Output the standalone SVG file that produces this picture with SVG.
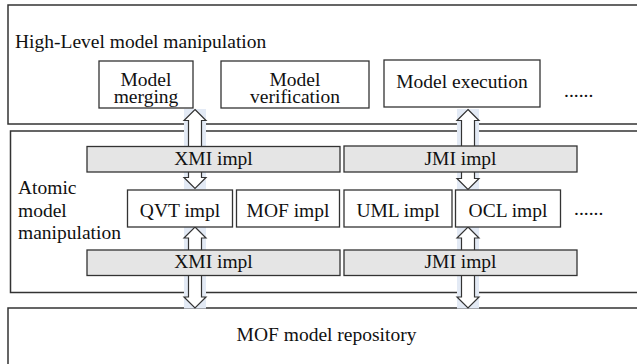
<svg xmlns="http://www.w3.org/2000/svg" width="637" height="364" viewBox="0 0 637 364">
<style>
text{font-family:"Liberation Serif",Tinos,"Times New Roman","DejaVu Serif",serif;font-size:19.5px;fill:#111}
.c{text-anchor:middle}
.outer{fill:#fff;stroke:#333;stroke-width:1.5}
.box{fill:#fff;stroke:#333;stroke-width:1.3}
.bar{fill:#e5e5e5;stroke:#333;stroke-width:1.3}
.band{fill:#e3eaf5;stroke:none}
.arr{fill:#fff;stroke:#333;stroke-width:1.2;stroke-linejoin:miter}
</style>
<rect width="637" height="364" fill="#fff"/>
<g font-family="Liberation Serif, Tinos, Times New Roman, DejaVu Serif, serif">
<g id="high-level">
<rect class="outer" x="8" y="5" width="640" height="119"/>
<text x="15" y="48">High-Level model manipulation</text>
</g>
<g id="atomic">
<rect class="outer" x="10.5" y="131" width="640" height="161.5"/>
<text x="18" y="194">Atomic</text>
<text x="18" y="216.5">model</text>
<text x="18" y="238.5">manipulation</text>
</g>
<g id="repository">
<rect class="outer" x="8" y="308" width="640" height="70"/>
<text class="c" x="326.5" y="341">MOF model repository</text>
</g>
<g id="connectors">
<rect class="band" x="184" y="109" width="22" height="80"/>
<polygon class="arr" points="195,109.5 206,120.5 201.5,120.5 201.5,177.5 206,177.5 195,188.5 184,177.5 188.5,177.5 188.5,120.5 184,120.5"/>
<rect class="band" x="457" y="109" width="22" height="81"/>
<polygon class="arr" points="468,109.5 479,120.5 474.5,120.5 474.5,178.5 479,178.5 468,189.5 457,178.5 461.5,178.5 461.5,120.5 457,120.5"/>
<rect class="band" x="184" y="226.5" width="22" height="82"/>
<polygon class="arr" points="195,227 206,238 201.5,238 201.5,297 206,297 195,308 184,297 188.5,297 188.5,238 184,238"/>
<rect class="band" x="457" y="226.5" width="22" height="82"/>
<polygon class="arr" points="468,227 479,238 474.5,238 474.5,297 479,297 468,308 457,297 461.5,297 461.5,238 457,238"/>
</g>
<g id="model-merging">
<rect class="box" x="99" y="61" width="94" height="47"/>
<text class="c" x="146" y="85.5">Model</text>
<text class="c" x="146" y="102.5">merging</text>
</g>
<g id="model-verification">
<rect class="box" x="221" y="61" width="148" height="47"/>
<text class="c" x="295" y="85.5">Model</text>
<text class="c" x="295" y="102.5">verification</text>
</g>
<g id="model-execution">
<rect class="box" x="384" y="60" width="156" height="47"/>
<text class="c" x="462" y="88">Model execution</text>
</g>
<g id="more-high">
<text x="564" y="97">......</text>
</g>
<g id="xmi-top">
<rect class="bar" x="87" y="146.5" width="253" height="25.5"/>
<text class="c" x="213.5" y="165">XMI impl</text>
</g>
<g id="jmi-top">
<rect class="bar" x="344" y="146" width="233" height="26"/>
<text class="c" x="460.5" y="165">JMI impl</text>
</g>
<g id="qvt">
<rect class="box" x="127.5" y="190" width="105" height="37"/>
<text class="c" x="180" y="216.5">QVT impl</text>
</g>
<g id="mof">
<rect class="box" x="236.5" y="190" width="103" height="37"/>
<text class="c" x="288" y="216.5">MOF impl</text>
</g>
<g id="uml">
<rect class="box" x="344" y="190" width="108" height="37"/>
<text class="c" x="398" y="216.5">UML impl</text>
</g>
<g id="ocl">
<rect class="box" x="455.5" y="190" width="105" height="37"/>
<text class="c" x="508" y="216.5">OCL impl</text>
</g>
<g id="more-atomic">
<text x="574" y="215">......</text>
</g>
<g id="xmi-bottom">
<rect class="bar" x="87" y="250" width="253" height="25.5"/>
<text class="c" x="213.5" y="268">XMI impl</text>
</g>
<g id="jmi-bottom">
<rect class="bar" x="344" y="250" width="233" height="25.5"/>
<text class="c" x="460.5" y="268">JMI impl</text>
</g>
</g>
</svg>
